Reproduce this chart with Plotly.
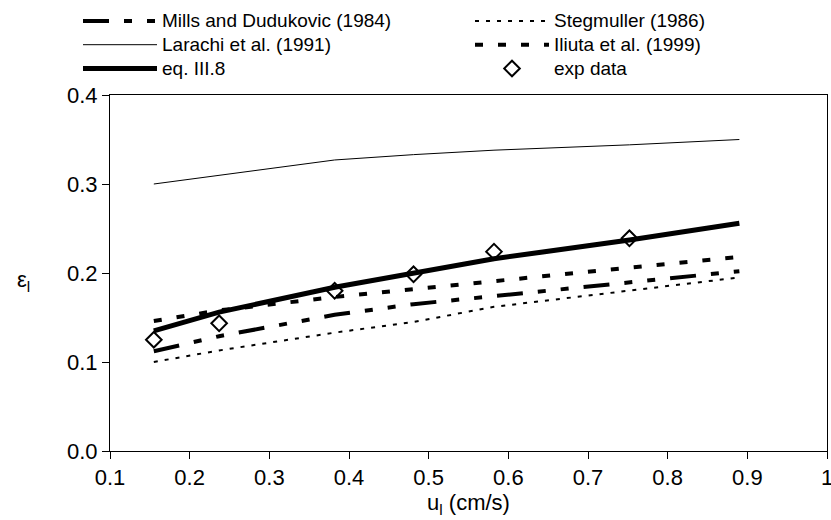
import plotly.graph_objects as go

# ---- data ----
u_model = [0.155, 0.237, 0.382, 0.481, 0.582, 0.752, 0.89]
mills = [0.112, 0.129, 0.153, 0.165, 0.174, 0.189, 0.202]
stegmuller = [0.100, 0.113, 0.133, 0.145, 0.162, 0.180, 0.195]
larachi = [0.300, 0.310, 0.327, 0.333, 0.338, 0.344, 0.350]
iliuta = [0.146, 0.158, 0.173, 0.182, 0.1915, 0.206, 0.218]
eq_III8 = [0.135, 0.156, 0.184, 0.200, 0.216, 0.237, 0.256]

u_exp = [0.155, 0.237, 0.382, 0.481, 0.582, 0.752]
eps_exp = [0.125, 0.1435, 0.180, 0.1985, 0.224, 0.239]

x_ticks = [0.1, 0.2, 0.3, 0.4, 0.5, 0.6, 0.7, 0.8, 0.9, 1.0]
y_ticks = [0.0, 0.1, 0.2, 0.3, 0.4]

FONT = "Liberation Sans, Arial, sans-serif"
LEG = 19

def nm(s):
    return f'<span style="font-size:{LEG}px">{s}</span>'

fig = go.Figure()
fig.add_trace(go.Scatter(x=u_model, y=mills, mode="lines", name=nm("Mills and Dudukovic (1984)"),
                         line=dict(color="black", width=4, dash="26px,15px,8px,15px,8px,15px")))
fig.add_trace(go.Scatter(x=u_model, y=stegmuller, mode="lines", name=nm("Stegmuller (1986)"),
                         line=dict(color="black", width=2, dash="4px,7px")))
fig.add_trace(go.Scatter(x=u_model, y=larachi, mode="lines", name=nm("Larachi et al. (1991)"),
                         line=dict(color="black", width=1)))
fig.add_trace(go.Scatter(x=u_model, y=iliuta, mode="lines", name=nm("Iliuta et al. (1999)"),
                         line=dict(color="black", width=4, dash="8px,15px")))
fig.add_trace(go.Scatter(x=u_model, y=eq_III8, mode="lines", name=nm("eq. III.8"),
                         line=dict(color="black", width=5)))
fig.add_trace(go.Scatter(x=u_exp, y=eps_exp, mode="markers", name=nm("exp data"),
                         marker=dict(symbol="diamond-open", size=12, color="black",
                                     line=dict(color="black", width=2))))

axis_common = dict(showline=True, linecolor="black", linewidth=1, mirror=True,
                   showgrid=False, zeroline=False, ticks="outside", ticklen=7,
                   tickcolor="black", tickwidth=1, ticklabeloverflow="allow",
                   tickfont=dict(family=FONT, size=22, color="black"))

fig.update_layout(
    width=831, height=520,
    margin=dict(l=110, r=4, t=95, b=69, autoexpand=False),
    paper_bgcolor="white", plot_bgcolor="white",
    font=dict(family=FONT, color="black"),
    showlegend=True,
    legend=dict(orientation="h", xref="paper", yref="paper",
                x=(78 - 110) / 717, xanchor="left", y=(451 - 4) / 356, yanchor="top",
                bgcolor="white", borderwidth=0,
                font=dict(family=FONT, size=16, color="black"),
                itemwidth=74, entrywidthmode="pixels", entrywidth=303,
                traceorder="normal", itemclick=False),
    xaxis=dict(range=[0.1, 1.0], tickvals=x_ticks,
               ticktext=[f"{v:g}" for v in x_ticks],
               title=dict(text="u<sub>l</sub> (cm/s)", standoff=4,
                          font=dict(family=FONT, size=22, color="black")),
               **axis_common),
    yaxis=dict(range=[0.0, 0.4], tickvals=y_ticks,
               ticktext=[f"{v:.1f}" for v in y_ticks],
               **axis_common),
)

fig.add_annotation(text="ε<sub>l</sub>", xref="paper", yref="paper",
                   x=-0.12, y=0.478, showarrow=False, xanchor="center", yanchor="middle",
                   font=dict(family=FONT, size=22, color="black"))

fig.write_html("out.html")
